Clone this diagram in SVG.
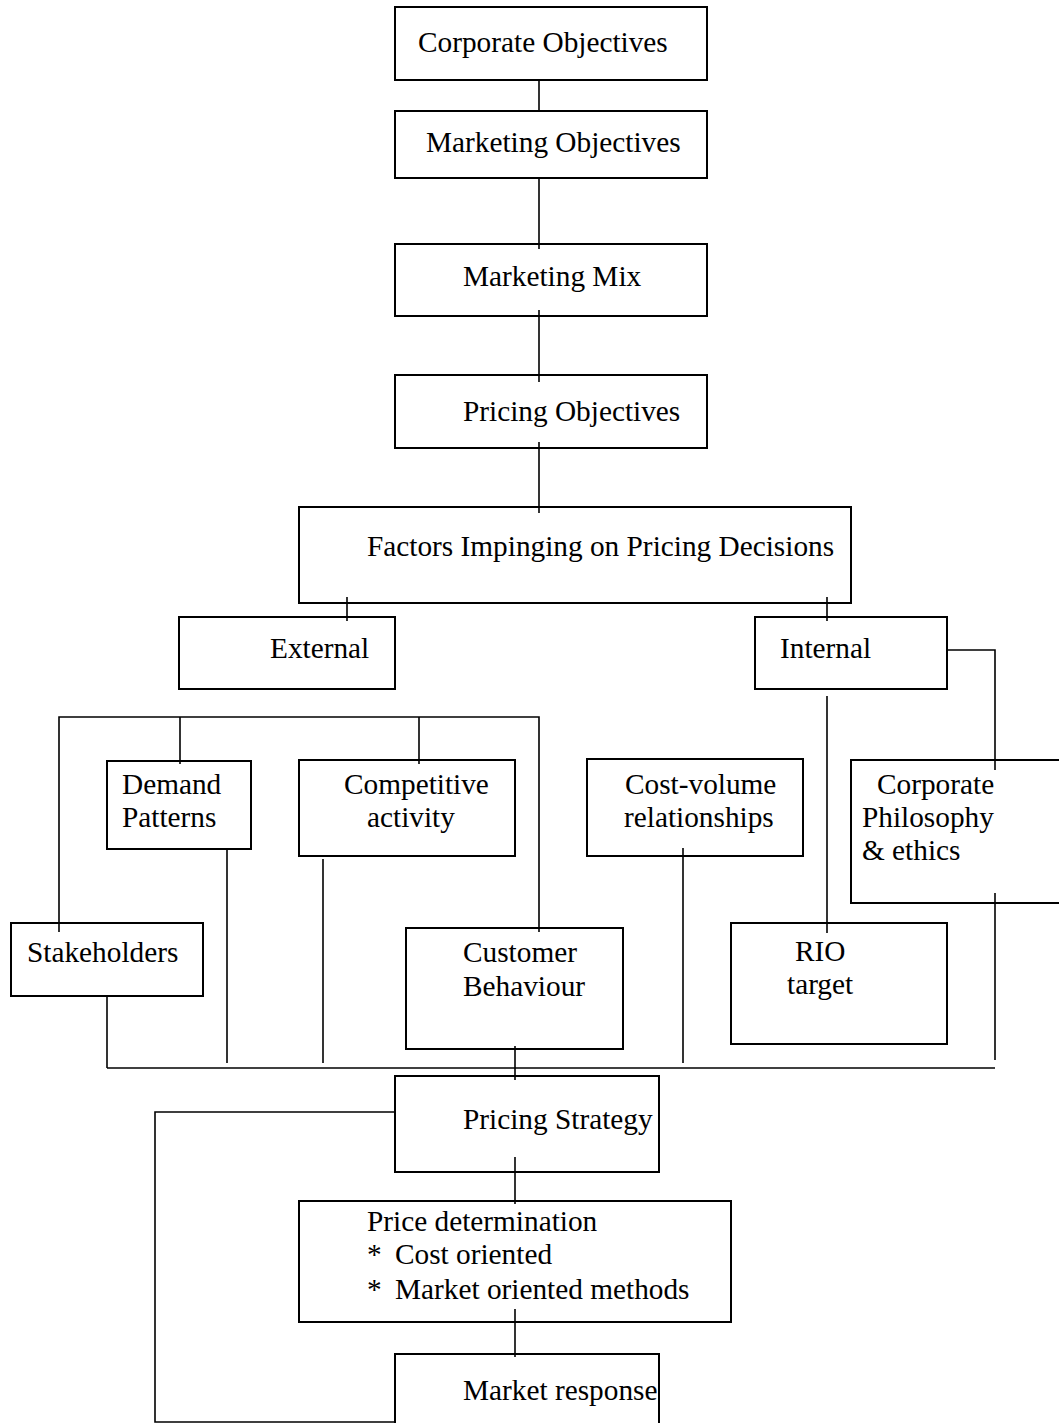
<svg xmlns="http://www.w3.org/2000/svg" width="1059" height="1423" viewBox="0 0 1059 1423">
<style>
  .box { fill: #fff; stroke: #000; stroke-width: 2; }
  .c { fill: none; stroke: #000; stroke-width: 1.6; }
  text { font-family: "Liberation Serif", "Times New Roman", serif; font-size: 29.3px; fill: #000; }
</style>
<rect width="1059" height="1423" fill="#fff"/>

<g id="n-corporate-objectives">
  <rect class="box" x="395" y="7" width="312" height="73"/>
  <text x="418" y="52">Corporate Objectives</text>
</g>
<g id="n-marketing-objectives">
  <rect class="box" x="395" y="111" width="312" height="67"/>
  <text x="426" y="152">Marketing Objectives</text>
</g>
<g id="n-marketing-mix">
  <rect class="box" x="395" y="244" width="312" height="72"/>
  <text x="463" y="286">Marketing Mix</text>
</g>
<g id="n-pricing-objectives">
  <rect class="box" x="395" y="375" width="312" height="73"/>
  <text x="463" y="421">Pricing Objectives</text>
</g>
<g id="n-factors">
  <rect class="box" x="299" y="507" width="552" height="96"/>
  <text x="367" y="556">Factors Impinging on Pricing Decisions</text>
</g>
<g id="n-external">
  <rect class="box" x="179" y="617" width="216" height="72"/>
  <text x="270" y="658">External</text>
</g>
<g id="n-internal">
  <rect class="box" x="755" y="617" width="192" height="72"/>
  <text x="780" y="658">Internal</text>
</g>
<g id="n-demand">
  <rect class="box" x="107" y="761" width="144" height="88"/>
  <text x="122" y="794">Demand</text>
  <text x="122" y="827">Patterns</text>
</g>
<g id="n-competitive">
  <rect class="box" x="299" y="760" width="216" height="96"/>
  <text x="344" y="794">Competitive</text>
  <text x="367" y="827">activity</text>
</g>
<g id="n-cost-volume">
  <rect class="box" x="587" y="759" width="216" height="97"/>
  <text x="625" y="794">Cost-volume</text>
  <text x="624" y="827">relationships</text>
</g>
<g id="n-corporate-philosophy">
  <rect class="box" x="851" y="760" width="230" height="143"/>
  <text x="877" y="794">Corporate</text>
  <text x="862" y="827">Philosophy</text>
  <text x="862" y="860">&amp; ethics</text>
</g>
<g id="n-stakeholders">
  <rect class="box" x="11" y="923" width="192" height="73"/>
  <text x="27" y="962">Stakeholders</text>
</g>
<g id="n-customer-behaviour">
  <rect class="box" x="406" y="928" width="217" height="121"/>
  <text x="463" y="962">Customer</text>
  <text x="463" y="996">Behaviour</text>
</g>
<g id="n-rio-target">
  <rect class="box" x="731" y="923" width="216" height="121"/>
  <text x="795" y="961">RIO</text>
  <text x="787" y="994">target</text>
</g>
<g id="n-pricing-strategy">
  <rect class="box" x="395" y="1076" width="264" height="96"/>
  <text x="463" y="1129">Pricing Strategy</text>
</g>
<g id="n-price-determination">
  <rect class="box" x="299" y="1201" width="432" height="121"/>
  <text x="367" y="1231">Price determination</text>
  <text x="367" y="1264">*</text>
  <text x="395" y="1264">Cost oriented</text>
  <text x="367" y="1299">*</text>
  <text x="395" y="1299">Market oriented methods</text>
</g>
<g id="n-market-response">
  <rect class="box" x="395" y="1354" width="264" height="80"/>
  <text x="463" y="1400">Market response</text>
</g>

<g id="connectors">
  <path class="c" d="M539 80 V111"/>
  <path class="c" d="M539 178 V249"/>
  <path class="c" d="M539 310 V382"/>
  <path class="c" d="M539 442 V513"/>
  <path class="c" d="M347 597 V621"/>
  <path class="c" d="M827 597 V621"/>
  <path class="c" d="M947 650 H995 V770"/>
  <path class="c" d="M827 696 V933"/>
  <path class="c" d="M59 932 V717 H539 V932"/>
  <path class="c" d="M180 717 V764"/>
  <path class="c" d="M419 717 V764"/>
  <path class="c" d="M227 849 V1063"/>
  <path class="c" d="M323 859 V1063"/>
  <path class="c" d="M683 848 V1063"/>
  <path class="c" d="M995 893 V1060"/>
  <path class="c" d="M107 996 V1068"/>
  <path class="c" d="M107 1068 H995"/>
  <path class="c" d="M515 1046 V1080"/>
  <path class="c" d="M395 1112 H155 V1422 H395"/>
  <path class="c" d="M515 1157 V1204"/>
  <path class="c" d="M515 1309 V1357"/>
</g>
</svg>
